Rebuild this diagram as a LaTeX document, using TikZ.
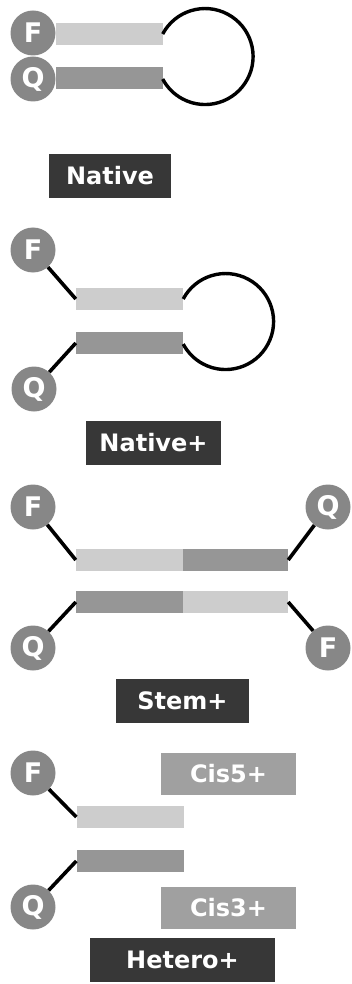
\documentclass[tikz,border=0pt]{standalone}
\usepackage{fontspec}
\setmainfont{DejaVu Sans}
\usepackage{tikz}
\usetikzlibrary{positioning}
\definecolor{dyegray}{RGB}{135,135,135}
\definecolor{armpale}{RGB}{205,205,205}
\definecolor{armdeep}{RGB}{150,150,150}
\definecolor{tagdark}{RGB}{55,55,55}
\definecolor{tagmid}{RGB}{160,160,160}
\tikzset{
  dye/.style={circle, fill=dyegray, minimum size=45pt, inner sep=0pt,
              text=white, font=\fontsize{27}{31}\selectfont\bfseries},
  armlight/.style={rectangle, fill=armpale, minimum width=107pt,
                   minimum height=22pt, inner sep=0pt},
  armdark/.style={armlight, fill=armdeep},
  linker/.style={line width=3.6pt, black},
  hairpin/.style={line width=3.4pt, black},
  tag/.style={rectangle, fill=tagdark, minimum height=44pt, inner sep=0pt,
              text=white, font=\fontsize{24}{28}\selectfont\bfseries},
  tagpale/.style={tag, fill=tagmid, minimum height=42pt},
}
\begin{document}
\begin{tikzpicture}[x=1pt, y=-1pt]
  \useasboundingbox (0,0) rectangle (351,984);
  % Native
  \node[dye] (nF) at (33,33) {F};
  \node[dye] (nQ) at (33,79) {Q};
  \node[armlight] (nA) at (109,34) {};
  \node[armdark]  (nB) at (109,78) {};
  \draw[hairpin] (nA.east) arc[start angle=152, end angle=-152, radius=48pt];
  \node[tag, minimum width=122pt] (nat) at (110,176) {Native};
  % Native+
  \node[dye] (pF) at (33,250) {F};
  \node[dye] (pQ) at (34,389) {Q};
  \node[armlight] (pA) at (129.5,299) {};
  \node[armdark]  (pB) at (129.5,343) {};
  \draw[linker] (pF) -- (pA.west);
  \draw[linker] (pQ) -- (pB.west);
  \draw[hairpin] (pA.east) arc[start angle=152, end angle=-152, radius=48pt];
  \node[tag, minimum width=135pt] (natp) at (153.5,442.5) {Native+};
  % Stem+
  \node[dye] (sF1) at (33,507)  {F};
  \node[dye] (sQ1) at (328,507) {Q};
  \node[dye] (sQ2) at (33,648)  {Q};
  \node[dye] (sF2) at (328,648) {F};
  \node[armlight] (sA1) at (129.5,560) {};
  \node[armdark, minimum width=105pt] (sA2) at (235.5,560) {};
  \node[armdark]  (sB1) at (129.5,602) {};
  \node[armlight, minimum width=105pt] (sB2) at (235.5,602) {};
  \draw[linker] (sF1) -- (sA1.west);
  \draw[linker] (sQ1) -- (sA2.east);
  \draw[linker] (sQ2) -- (sB1.west);
  \draw[linker] (sF2) -- (sB2.east);
  \node[tag, minimum width=133pt] (stem) at (182.5,700.5) {Stem+};
  % Hetero+
  \node[dye] (hF) at (33,773) {F};
  \node[dye] (hQ) at (33,907) {Q};
  \node[armlight] (hA) at (130,817) {};
  \node[armdark]  (hB) at (130,861) {};
  \draw[linker] (hF) -- (hA.west);
  \draw[linker] (hQ) -- (hB.west);
  \node[tagpale, minimum width=135pt] (cis5) at (228.5,774)   {Cis5+};
  \node[tagpale, minimum width=135pt] (cis3) at (228.5,907.5) {Cis3+};
  \node[tag, minimum width=185pt] (het) at (182.5,960) {Hetero+};
\end{tikzpicture}
\end{document}
